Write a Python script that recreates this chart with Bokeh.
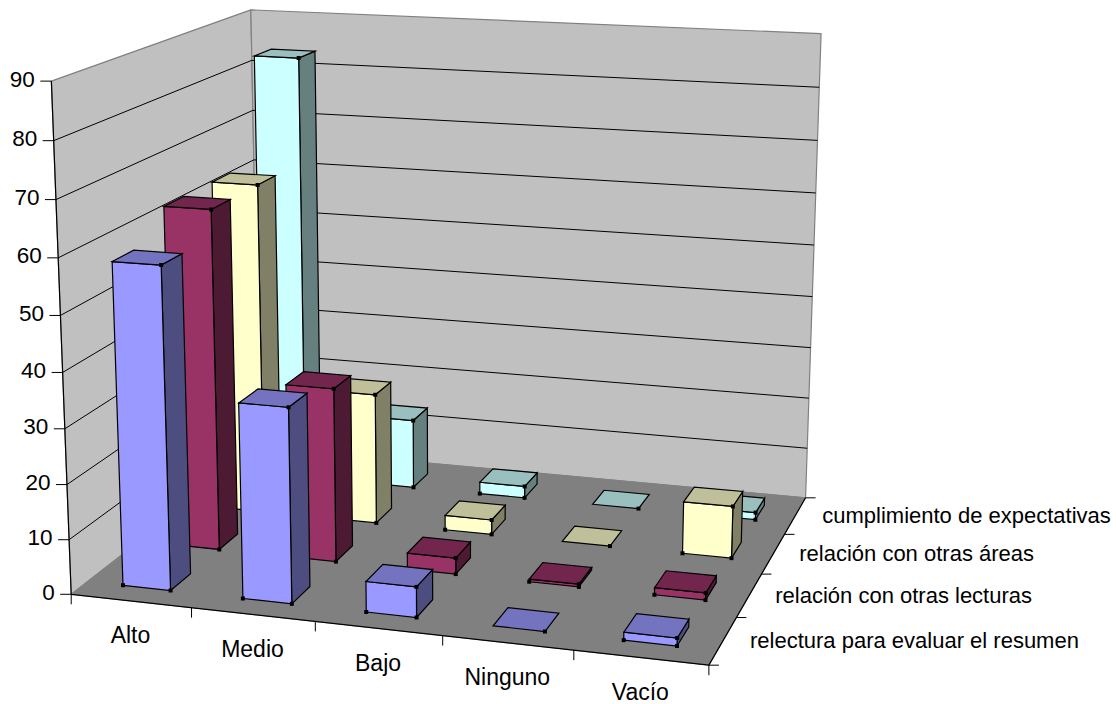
import numpy as np
from bokeh.core.properties import value
from bokeh.embed import file_html
from bokeh.models import ColumnDataSource
from bokeh.plotting import figure
from bokeh.resources import INLINE

categories = ["Alto", "Medio", "Bajo", "Ninguno", "Vacío"]
series_names = [
    "relectura para evaluar el resumen",
    "relación con otras lecturas",
    "relación con otras áreas",
    "cumplimiento de expectativas",
]
relectura = [58.3, 35.2, 5.5, 0, 1.4]
otras_lecturas = [63.3, 32.3, 3, 0.5, 1.3]
otras_areas = [63.3, 25, 2.8, 0, 9.8]
expectativas = [83.5, 13.6, 2.3, 0, 1.4]
value_ticks = [0, 10, 20, 30, 40, 50, 60, 70, 80, 90]

series_values = [relectura, otras_lecturas, otras_areas, expectativas]
front_colors = ["#9999FF", "#993366", "#FFFFCC", "#CCFFFF"]
top_colors = ["#7373BF", "#73264D", "#BFBF99", "#99BFBF"]
side_colors = ["#4D4D80", "#4D1A33", "#808066", "#668080"]

N_CAT, N_SER, V_MAX = len(categories), len(series_names), value_ticks[-1]

# Camera calibration: cube corners (category, series, value) and where they land on the page.
camera_points = [
    ((0, 0, 0), (70, 595)),
    ((N_CAT, 0, 0), (708, 664)),
    ((N_CAT, N_SER, 0), (805, 498)),
    ((0, N_SER, 0), (260, 446)),
    ((0, 0, V_MAX), (52, 80)),
    ((0, N_SER, V_MAX), (249, 10)),
    ((N_CAT, N_SER, V_MAX), (821, 33)),
]


def fit_camera(points):
    rows, rhs = [], []
    for (a, b, c), (x, y) in points:
        rows.append([a, b, c, 1, 0, 0, 0, 0, -x * a, -x * b, -x * c])
        rhs.append(x)
        rows.append([0, 0, 0, 0, a, b, c, 1, -y * a, -y * b, -y * c])
        rhs.append(y)
    m = np.linalg.lstsq(np.array(rows, float), np.array(rhs, float), rcond=None)[0]
    return np.append(m, 1.0).reshape(3, 4)


CAMERA = fit_camera(camera_points)


def project(a, b, c):
    h = CAMERA @ np.array([a, b, c, 1.0])
    return float(h[0] / h[2]), float(h[1] / h[2])


def quad(corners):
    pts = [project(*c) for c in corners]
    return [q[0] for q in pts], [q[1] for q in pts]


p = figure(width=1116, height=704, x_range=(0, 1116), y_range=(704, 0),
           toolbar_location=None, output_backend="svg", min_border=0,
           background_fill_color="white", border_fill_color="white", outline_line_color=None)
p.axis.visible = False
p.grid.visible = False

# Walls and floor
left_wall = quad([(0, 0, 0), (0, N_SER, 0), (0, N_SER, V_MAX), (0, 0, V_MAX)])
back_wall = quad([(0, N_SER, 0), (N_CAT, N_SER, 0), (N_CAT, N_SER, V_MAX), (0, N_SER, V_MAX)])
floor = quad([(0, 0, 0), (N_CAT, 0, 0), (N_CAT, N_SER, 0), (0, N_SER, 0)])
p.patches([left_wall[0], back_wall[0]], [left_wall[1], back_wall[1]],
          fill_color="#C0C0C0", line_color="#808080", line_width=1.2)
p.patch(floor[0], floor[1], fill_color="#808080", line_color="#808080", line_width=1)

# Horizontal gridlines across both walls
for v in value_ticks[1:-1]:
    xs, ys = quad([(0, 0, v), (0, N_SER, v), (N_CAT, N_SER, v)])
    p.line(xs, ys, line_color="black", line_width=1)

# Axis lines
xs, ys = quad([(0, 0, V_MAX), (0, 0, 0), (N_CAT, 0, 0), (N_CAT, N_SER, 0)])
p.line(xs, ys, line_color="black", line_width=1.2)

# Value ticks and labels
for v in value_ticks:
    x, y = project(0, 0, v)
    p.segment(x - 11, y, x, y, line_color="black", line_width=1)
    p.text([x - 16.5], [y - 2], text=[str(v)], text_font=value("Liberation Sans"), text_font_size="22.5px",
           text_align="right", text_baseline="middle", text_color="black")

# Category ticks and labels
for i in range(N_CAT + 1):
    x, y = project(i, 0, 0)
    p.segment(x, y, x, y + 10, line_color="black", line_width=1)
for i, name in enumerate(categories):
    x, y = project(i + 0.5, 0, 0)
    p.text([x - 0.5], [y + 34.5], text=[name], text_font=value("Liberation Sans"), text_font_size="23px",
           text_align="center", text_baseline="middle", text_color="black")

# Series ticks and labels
label_shift = [27, 26, 26, 27]
for j in range(N_SER + 1):
    x, y = project(N_CAT, j, 0)
    p.segment(x, y, x + 10, y, line_color="black", line_width=1)
for j, name in enumerate(series_names):
    x, y = project(N_CAT, j + 0.5, 0)
    p.text([x + label_shift[j]], [y], text=[name], text_font=value("Liberation Sans"), text_font_size="22px",
           text_align="left", text_baseline="middle", text_color="black")

# Bars, painted from the back row forward and left to right within a row
for j in range(N_SER - 1, -1, -1):
    for i in range(N_CAT):
        h = series_values[j][i]
        a0, a1 = i + 0.3, i + 0.7
        b0, b1 = j + 0.3, j + 0.7
        faces = []
        if h > 0:
            faces.append((quad([(a1, b0, 0), (a1, b1, 0), (a1, b1, h), (a1, b0, h)]), side_colors[j]))
            faces.append((quad([(a0, b0, 0), (a1, b0, 0), (a1, b0, h), (a0, b0, h)]), front_colors[j]))
        faces.append((quad([(a0, b0, h), (a1, b0, h), (a1, b1, h), (a0, b1, h)]), top_colors[j]))
        src = ColumnDataSource(dict(
            xs=[f[0][0] for f in faces], ys=[f[0][1] for f in faces], color=[f[1] for f in faces]))
        p.patches("xs", "ys", source=src, fill_color="color", line_color="black", line_width=1.2,
                  line_join="miter")
        corners = [(a1, b0, 0)]
        if h > 0:
            corners += [(a0, b0, 0), (a1, b0, h)]
        cx, cy = quad(corners)
        p.scatter(cx, cy, marker="square", size=4, fill_color="black", line_color="black", line_width=0)

open("out.html", "w").write(file_html(p, INLINE))
